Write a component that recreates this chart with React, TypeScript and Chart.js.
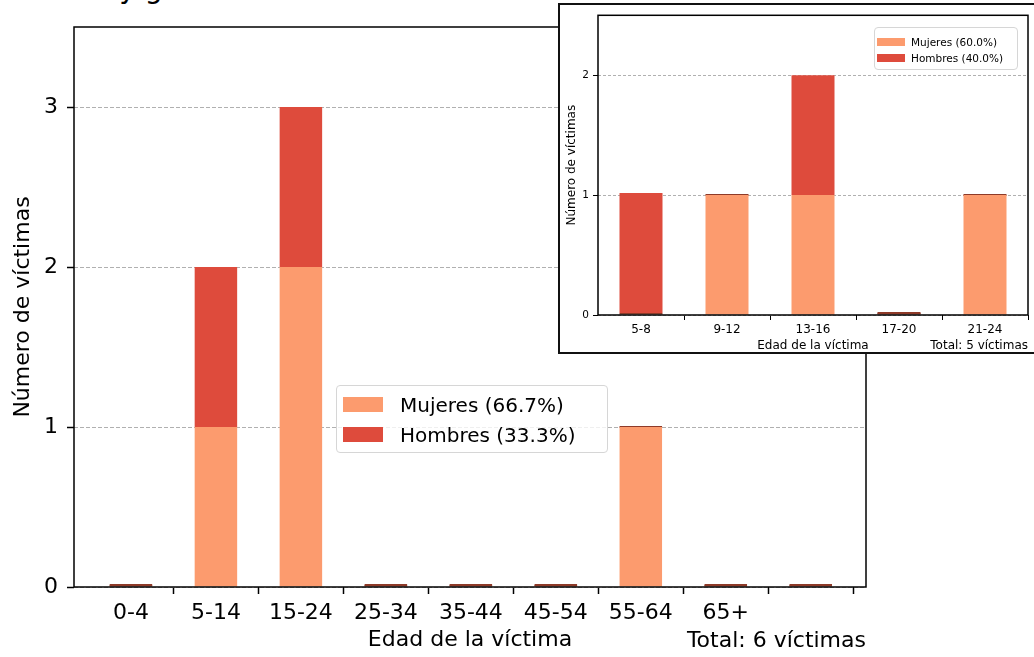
import React, { useEffect, useRef } from 'react';
import { Chart, registerables } from 'chart.js';

Chart.register(...registerables);

// ---- data ----
const mainCategories = ['0-4', '5-14', '15-24', '25-34', '35-44', '45-54', '55-64', '65+', ''];
const mainMujeres = [0, 1, 2, 0, 0, 0, 1, 0, 0];
const mainHombres = [0, 1, 1, 0, 0, 0, 0, 0, 0];
const mainYTicks = [0, 1, 2, 3];
const mainLegend = ['Mujeres (66.7%)', 'Hombres (33.3%)'];
const mainTotal = 'Total: 6 víctimas';

const insetCategories = ['5-8', '9-12', '13-16', '17-20', '21-24'];
const insetMujeres = [0, 1, 1, 0, 1];
const insetHombres = [1, 0, 1, 0, 0];
const insetYTicks = [0, 1, 2];
const insetLegend = ['Mujeres (60.0%)', 'Hombres (40.0%)'];
const insetTotal = 'Total: 5 víctimas';

const xTitle = 'Edad de la víctima';
const yTitle = 'Número de víctimas';
const pageTitle = 'Edad y género';

const ORANGE = '#fc9b6e';
const RED = '#de4b3c';
const ZERO_COLOR = '#8e3a28';
const FONT = "'DejaVu Sans', sans-serif";

type Spec = {
  categories: string[];
  mujeres: number[];
  hombres: number[];
  yTicks: number[];
  yMax: number;
  xMin: number;
  xMax: number;
  xFont: number;
  yFont: number;
  titleFont: number;
  tickLen: number;
  tickWidth: number;
  yPad: number;
  xPad: number;
  yWidth: number;
  xHeight: number;
  padTop: number;
  padRight: number;
  yTitlePad: number;
  xTitlePad: number;
  spineWidth: number;
  minBar: number;
  dash: number[];
};

function buildConfig(s: Spec): any {
  const pts = (arr: number[]) => arr.map((v, i) => ({ x: i, y: v }));
  const color = (base: string) => (c: any) => (c.raw && c.raw.y === 0 ? ZERO_COLOR : base);
  const boxPlugin = {
    id: 'box',
    afterDatasetsDraw(chart: any) {
      const { ctx, chartArea: a } = chart;
      ctx.save();
      ctx.strokeStyle = '#000';
      ctx.lineWidth = s.spineWidth;
      ctx.strokeRect(a.left, a.top, a.right - a.left, a.bottom - a.top);
      ctx.restore();
    },
  };
  return {
    type: 'bar',
    data: {
      datasets: [
        { label: 'Mujeres', data: pts(s.mujeres), backgroundColor: color(ORANGE), minBarLength: s.minBar, borderWidth: 0 },
        { label: 'Hombres', data: pts(s.hombres), backgroundColor: color(RED), minBarLength: s.minBar, borderWidth: 0 },
      ],
    },
    options: {
      responsive: false,
      animation: false,
      layout: { padding: { top: s.padTop, right: s.padRight, left: 0, bottom: 0 } },
      plugins: { legend: { display: false }, tooltip: { enabled: false }, title: { display: false } },
      datasets: { bar: { categoryPercentage: 1, barPercentage: 0.5 } },
      scales: {
        x: {
          type: 'linear',
          min: s.xMin,
          max: s.xMax,
          offset: false,
          stacked: true,
          afterBuildTicks: (sc: any) => {
            sc.ticks = s.categories.map((_, i) => ({ value: i }));
          },
          afterFit: (sc: any) => {
            sc.height = s.xHeight;
          },
          ticks: {
            callback: (_v: any, i: number) => s.categories[i] ?? '',
            font: { family: FONT, size: s.xFont },
            color: '#000',
            padding: s.xPad,
            maxRotation: 0,
            autoSkip: false,
          },
          grid: {
            offset: true,
            drawOnChartArea: false,
            drawTicks: true,
            tickLength: s.tickLen,
            tickWidth: s.tickWidth,
            tickColor: (c: any) => (c.index === 0 ? 'rgba(0,0,0,0)' : '#000'),
          },
          border: { display: false },
          title: {
            display: true,
            text: xTitle,
            font: { family: FONT, size: s.titleFont },
            color: '#000',
            padding: { top: 0, bottom: s.xTitlePad },
          },
        },
        y: {
          type: 'linear',
          min: 0,
          max: s.yMax,
          stacked: true,
          afterBuildTicks: (sc: any) => {
            sc.ticks = s.yTicks.map((v) => ({ value: v }));
          },
          afterFit: (sc: any) => {
            sc.width = s.yWidth;
          },
          ticks: {
            font: { family: FONT, size: s.yFont },
            color: '#000',
            padding: s.yPad,
          },
          grid: {
            color: '#b0b0b0',
            lineWidth: 1,
            drawTicks: true,
            tickLength: s.tickLen,
            tickWidth: s.tickWidth,
            tickColor: '#000',
          },
          border: { display: false, dash: s.dash },
          title: {
            display: true,
            text: yTitle,
            font: { family: FONT, size: s.titleFont },
            color: '#000',
            padding: { top: s.yTitlePad, bottom: 0 },
          },
        },
      },
    },
    plugins: [boxPlugin],
  };
}

function ChartCanvas({ spec, width, height }: { spec: Spec; width: number; height: number }) {
  const ref = useRef<HTMLCanvasElement | null>(null);
  useEffect(() => {
    if (!ref.current) return;
    const chart = new Chart(ref.current, buildConfig(spec));
    return () => chart.destroy();
  }, [spec]);
  return <canvas ref={ref} width={width} height={height} style={{ display: 'block', width, height }} />;
}

const mainSpec: Spec = {
  categories: mainCategories,
  mujeres: mainMujeres,
  hombres: mainHombres,
  yTicks: mainYTicks,
  yMax: 3.5,
  xMin: -0.67,
  xMax: 8.65,
  xFont: 22,
  yFont: 22,
  titleFont: 22,
  tickLen: 7,
  tickWidth: 1.5,
  yPad: 9,
  xPad: 6,
  yWidth: 74,
  xHeight: 70,
  padTop: 27,
  padRight: 168,
  yTitlePad: 10,
  xTitlePad: 4,
  spineWidth: 1.5,
  minBar: 2,
  dash: [4, 2],
};

const insetSpec: Spec = {
  categories: insetCategories,
  mujeres: insetMujeres,
  hombres: insetHombres,
  yTicks: insetYTicks,
  yMax: 2.5,
  xMin: -0.5,
  xMax: 4.5,
  xFont: 12,
  yFont: 10.5,
  titleFont: 12,
  tickLen: 5,
  tickWidth: 1,
  yPad: 4,
  xPad: 3,
  yWidth: 38,
  xHeight: 37,
  padTop: 7,
  padRight: 6,
  yTitlePad: 5,
  xTitlePad: -1,
  spineWidth: 1.5,
  minBar: 2,
  dash: [3, 2],
};

function Legend({
  labels, left, top, width, height, swLeft, swTop, swW, swH, rowGap, textLeft, fontSize,
}: {
  labels: string[]; left: number; top: number; width: number; height: number; swLeft: number; swTop: number;
  swW: number; swH: number; rowGap: number; textLeft: number; fontSize: number;
}) {
  const colors = [ORANGE, RED];
  return (
    <div
      style={{
        position: 'absolute', left, top, width, height, boxSizing: 'border-box',
        background: 'rgba(255,255,255,0.8)', border: '1px solid #d6d6d6', borderRadius: 4,
      }}
    >
      {labels.map((l, i) => (
        <React.Fragment key={l}>
          <div
            style={{
              position: 'absolute', left: swLeft - left - 1, top: swTop - top - 1 + i * rowGap,
              width: swW, height: swH, background: colors[i],
            }}
          />
          <div
            style={{
              position: 'absolute', left: textLeft - left - 1, top: swTop - top - 1 + i * rowGap + swH / 2 - fontSize * 0.6,
              fontFamily: FONT, fontSize, lineHeight: `${fontSize * 1.2}px`, color: '#000', whiteSpace: 'nowrap',
            }}
          >
            {l}
          </div>
        </React.Fragment>
      ))}
    </div>
  );
}

export default function App() {
  return (
    <div style={{ position: 'absolute', left: 0, top: 0, width: 1034, height: 657, overflow: 'hidden', background: '#fff' }}>
      <div
        style={{
          position: 'absolute', left: 40, top: -24.7, fontFamily: FONT, fontSize: 28, lineHeight: '28px',
          color: '#000', whiteSpace: 'nowrap',
        }}
      >
        {pageTitle}
      </div>
      <div style={{ position: 'absolute', left: 0, top: 0 }}>
        <ChartCanvas spec={mainSpec} width={1034} height={657} />
      </div>
      <Legend
        labels={mainLegend} left={336} top={385} width={272} height={68}
        swLeft={343} swTop={397} swW={40} swH={15} rowGap={30} textLeft={400} fontSize={20}
      />
      <div
        style={{
          position: 'absolute', right: 168, top: 627, fontFamily: FONT, fontSize: 22, lineHeight: '26px',
          color: '#000', whiteSpace: 'nowrap',
        }}
      >
        {mainTotal}
      </div>
      <div
        style={{
          position: 'absolute', left: 558, top: 3, width: 500, height: 351, boxSizing: 'border-box',
          border: '2px solid #111', background: '#fff',
        }}
      >
        <div style={{ position: 'absolute', left: 0, top: 0 }}>
          <ChartCanvas spec={insetSpec} width={474} height={347} />
        </div>
      </div>
      <Legend
        labels={insetLegend} left={874} top={27} width={144} height={43}
        swLeft={877} swTop={38} swW={28} swH={8} rowGap={16} textLeft={911} fontSize={10.5}
      />
      <div
        style={{
          position: 'absolute', right: 6, top: 338, fontFamily: FONT, fontSize: 12, lineHeight: '14px',
          color: '#000', whiteSpace: 'nowrap',
        }}
      >
        {insetTotal}
      </div>
    </div>
  );
}
